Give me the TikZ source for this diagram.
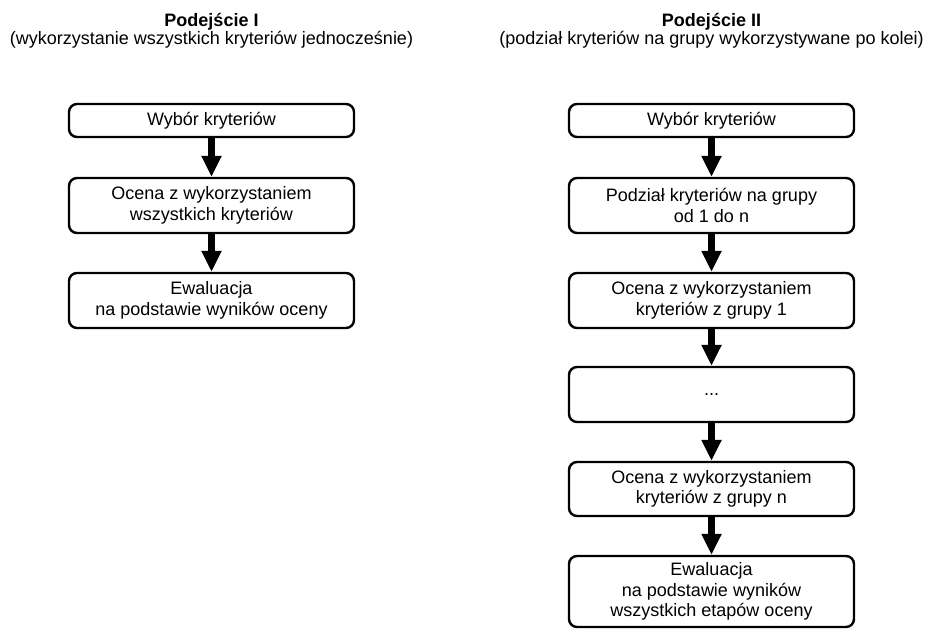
\documentclass[tikz,border=0pt]{standalone}
\usepackage{fontspec}
\setmainfont{Liberation Sans}
\usetikzlibrary{arrows.meta}

\tikzset{
  stage/.style={draw=black, line width=2.4pt, rounded corners=8pt, fill=white,
    minimum width=285pt, inner sep=2pt, align=center,
    font=\fontsize{18}{20.5}\selectfont},
  flow/.style={line width=7pt, -{Triangle[width=19pt,length=21pt]}},
  heading/.style={anchor=base, font=\fontsize{18}{20.5}\selectfont\bfseries},
  subheading/.style={anchor=base, font=\fontsize{18}{20.5}\selectfont}
}

\begin{document}
\begin{tikzpicture}[x=1pt, y=-1pt]
  \useasboundingbox (0,0) rectangle (928,632);

  % column headings
  \node[heading] (t1) at (211.5,26) {Podejście I};
  \node[subheading] (s1) at (211.5,44) {(wykorzystanie wszystkich kryteriów jednocześnie)};
  \node[heading] (t2) at (711.5,26) {Podejście II};
  \node[subheading] (s2) at (711.5,44) {(podział kryteriów na grupy wykorzystywane po kolei)};

  % approach I
  \node[stage, minimum height=33pt] (a1) at (211.5,120.5) {Wybór kryteriów};
  \node[stage, minimum height=55pt] (a2) at (211.5,205.5) {Ocena z wykorzystaniem\\wszystkich kryteriów};
  \node[stage, minimum height=55pt] (a3) at (211.5,300.5) {Ewaluacja\\na podstawie wyników oceny};

  \draw[flow] (a1.south) -- (a2.north);
  \draw[flow] (a2.south) -- (a3.north);

  % approach II
  \node[stage, minimum height=33pt] (b1) at (711.5,120.5) {Wybór kryteriów};
  \node[stage, minimum height=55pt] (b2) at (711.5,205.5) {Podział kryteriów na grupy\\od 1 do n};
  \node[stage, minimum height=55pt] (b3) at (711.5,300.5) {Ocena z wykorzystaniem\\kryteriów z grupy 1};
  \node[stage, minimum height=55pt] (b4) at (711.5,394.5) {...};
  \node[stage, minimum height=54pt] (b5) at (711.5,489) {Ocena z wykorzystaniem\\kryteriów z grupy n};
  \node[stage, minimum height=71pt] (b6) at (711.5,591.5) {Ewaluacja\\na podstawie wyników\\wszystkich etapów oceny};

  \draw[flow] (b1.south) -- (b2.north);
  \draw[flow] (b2.south) -- (b3.north);
  \draw[flow] (b3.south) -- (b4.north);
  \draw[flow] (b4.south) -- (b5.north);
  \draw[flow] (b5.south) -- (b6.north);
\end{tikzpicture}
\end{document}
